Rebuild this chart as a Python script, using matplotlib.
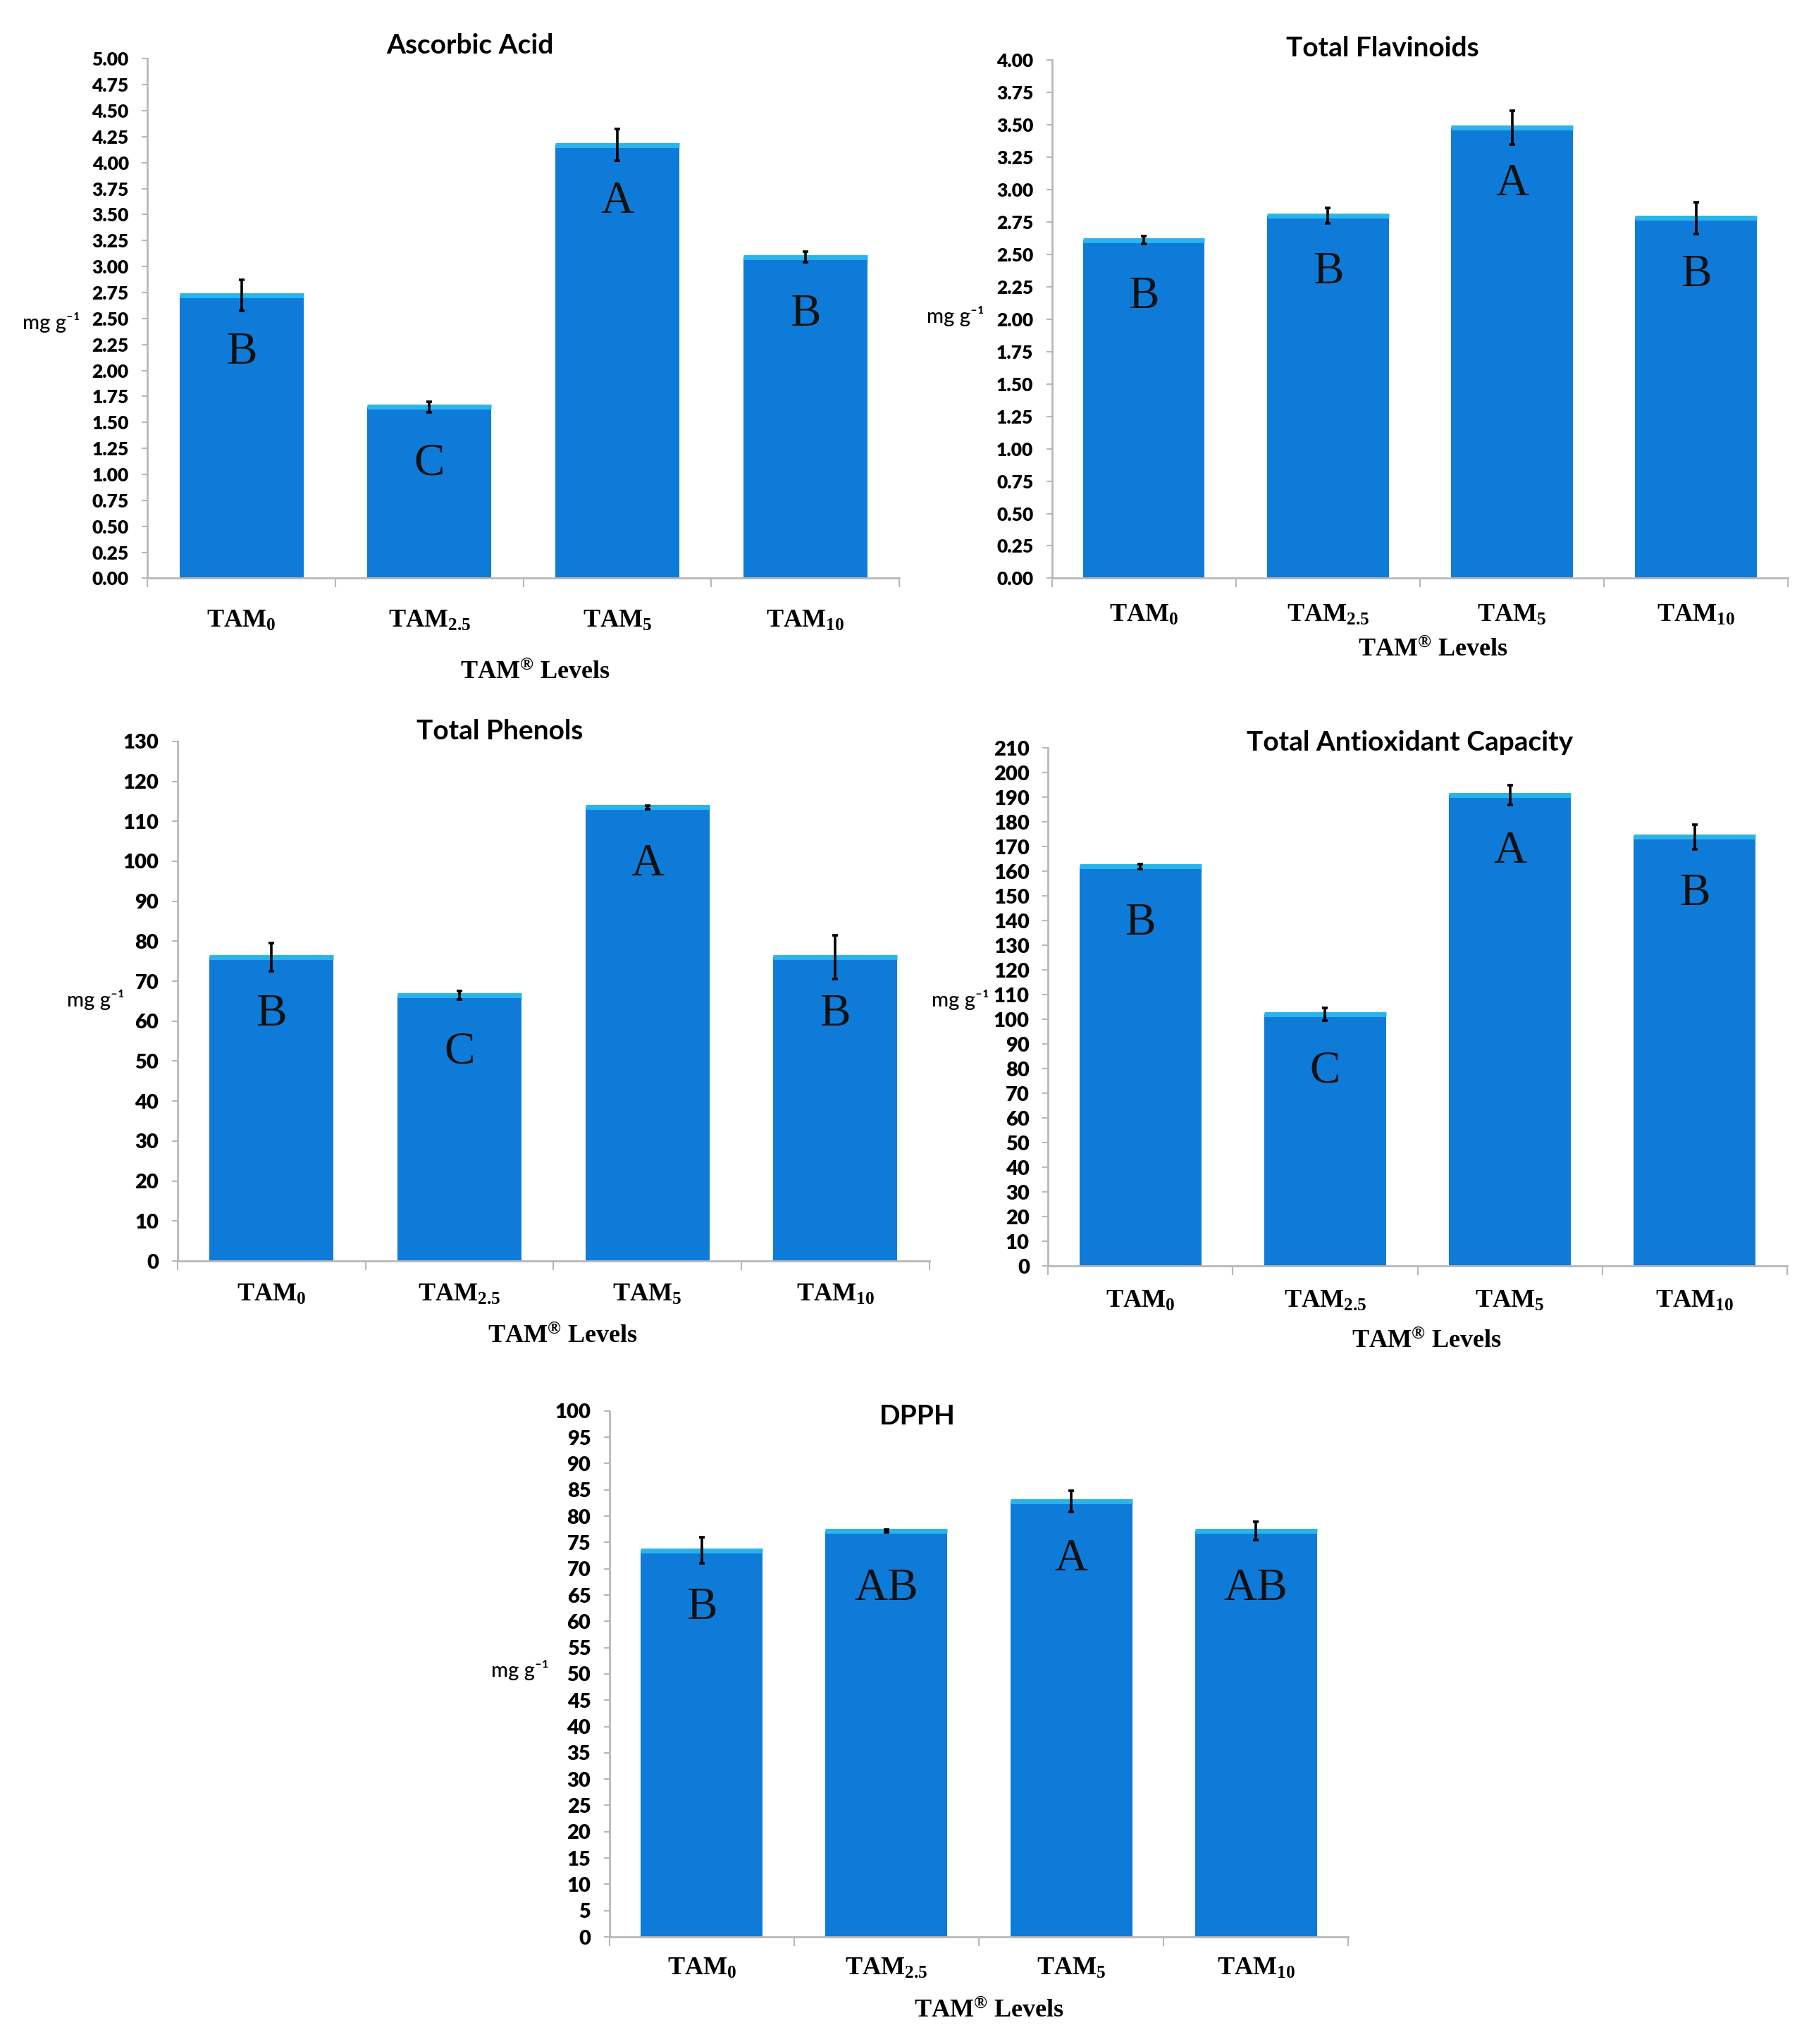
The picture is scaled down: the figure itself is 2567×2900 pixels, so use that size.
import matplotlib
matplotlib.use("Agg")
import matplotlib.pyplot as plt
import numpy as np
from matplotlib.ticker import MultipleLocator, FormatStrFormatter

plt.rcParams["mathtext.fontset"] = "custom"
plt.rcParams["mathtext.rm"] = "Liberation Serif:bold"
plt.rcParams["mathtext.it"] = "Liberation Serif:bold"
plt.rcParams["mathtext.bf"] = "Liberation Serif:bold"

# data
levels = [r"TAM$_{0}$", r"TAM$_{2.5}$", r"TAM$_{5}$", r"TAM$_{10}$"]

titles = ["Ascorbic Acid", "Total Flavinoids", "Total Phenols",
          "Total Antioxidant Capacity", "DPPH"]

ascorbic = [2.72, 1.65, 4.17, 3.09]
ascorbic_err = [0.15, 0.05, 0.15, 0.05]
ascorbic_grp = ["B", "C", "A", "B"]

flavinoids = [2.61, 2.80, 3.48, 2.78]
flavinoids_err = [0.03, 0.06, 0.13, 0.12]
flavinoids_grp = ["B", "B", "A", "B"]

phenols = [76.0, 66.5, 113.5, 76.0]
phenols_err = [3.5, 1.0, 0.4, 5.5]
phenols_grp = ["B", "C", "A", "B"]

tac = [162.0, 102.0, 191.0, 174.0]
tac_err = [1.0, 2.5, 4.0, 5.0]
tac_grp = ["B", "C", "A", "B"]

dpph = [73.5, 77.2, 82.8, 77.2]
dpph_err = [2.5, 0.3, 2.0, 1.7]
dpph_grp = ["B", "AB", "A", "AB"]

ymax = [5.0, 4.0, 130, 210, 100]
ystep = [0.25, 0.25, 10, 10, 5]
yfmt = ["%.2f", "%.2f", "%d", "%d", "%d"]

BLUE = "#0f7bd9"
TOP = "#2ab4ec"
GRID = "#b8b8b8"

# layout (figure fractions): axes rect, title xy, ylabel xy, xlabel xy, x tick pad, y tick size
layout = [
    ([0.0815, 0.7171, 0.4156, 0.2542], (0.2597, 0.9777), (0.0282, 0.8424), (0.2958, 0.6711), 32, 19),
    ([0.5815, 0.7171, 0.4069, 0.2535], (0.7641, 0.9764), (0.5280, 0.8455), (0.7922, 0.6820), 26, 19),
    ([0.0981, 0.3831, 0.4156, 0.2542], (0.2763, 0.6424), (0.0530, 0.5110), (0.3110, 0.3461), 23, 21),
    ([0.5794, 0.3806, 0.4084, 0.2535], (0.7792, 0.6367), (0.5310, 0.5110), (0.7886, 0.3436), 24, 21),
    ([0.3369, 0.0524, 0.4084, 0.2573], (0.5072, 0.3072), (0.2876, 0.1828), (0.5469, 0.0160), 21, 21),
]

panels = [
    (ascorbic, ascorbic_err, ascorbic_grp),
    (flavinoids, flavinoids_err, flavinoids_grp),
    (phenols, phenols_err, phenols_grp),
    (tac, tac_err, tac_grp),
    (dpph, dpph_err, dpph_grp),
]

fig = plt.figure(figsize=(25.67, 29.0), dpi=100)
x = np.arange(len(levels))
w = 0.66

for i, (vals, errs, grp) in enumerate(panels):
    rect, tpos, ypos, xpos, pad, ysize = layout[i]
    ax = fig.add_axes(rect)
    ax.bar(x, vals, width=w, color=BLUE, zorder=2)
    ax.hlines(vals, x - w / 2, x + w / 2, colors=TOP, linewidth=5, zorder=3)
    ax.errorbar(x, vals, yerr=errs, fmt="none", ecolor="black",
                elinewidth=2.6, capsize=3, capthick=2.6, zorder=4)
    for xi, v, g in zip(x, vals, grp):
        ax.text(xi, v - 0.11 * ymax[i], g, ha="center", va="center",
                fontsize=47, family="Liberation Serif", color="#111111", zorder=5)

    ax.set_xlim(-0.5, len(levels) - 0.5)
    ax.set_ylim(0, ymax[i])
    ax.yaxis.set_major_locator(MultipleLocator(ystep[i]))
    ax.yaxis.set_major_formatter(FormatStrFormatter(yfmt[i]))
    ax.set_xticks(x)
    ax.set_xticklabels(levels, fontsize=26, family="Liberation Serif", weight="bold")
    ax.set_xticks(np.arange(len(levels) + 1) - 0.5, minor=True)
    ax.tick_params(axis="x", which="major", length=0, pad=pad)
    ax.tick_params(axis="x", which="minor", length=9, width=1.5, color=GRID)
    ax.tick_params(axis="y", length=6, width=1.5, color=GRID, pad=13)
    for lab in ax.get_yticklabels():
        lab.set_fontsize(ysize)
        lab.set_family("Lato")
        lab.set_weight(800)
    for s in ("top", "right"):
        ax.spines[s].set_visible(False)
    for s in ("left", "bottom"):
        ax.spines[s].set_color(GRID)
        ax.spines[s].set_linewidth(2)

    fig.text(tpos[0], tpos[1], titles[i], ha="center", va="center",
             fontsize=28, family="Lato", weight="bold")
    fig.text(ypos[0], ypos[1], "mg g\u207b\u00b9", ha="center", va="center",
             fontsize=21, family=["Lato", "DejaVu Sans"], weight=500)
    fig.text(xpos[0], xpos[1], r"TAM$^{\mathrm{®}}$ Levels", ha="center", va="center",
             fontsize=26, family="Liberation Serif", weight="bold")

fig.savefig("out.png", dpi=100, facecolor="white")
